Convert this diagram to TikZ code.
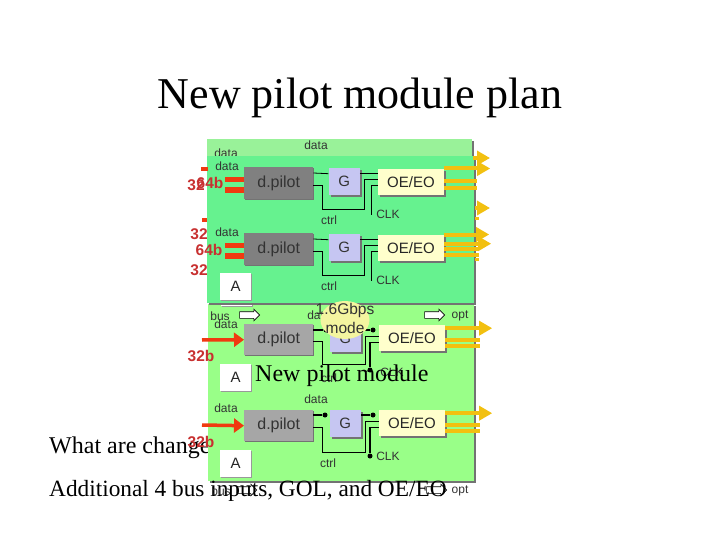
\documentclass[tikz,border=0pt]{standalone}
\usepackage{fontspec}
\setmainfont{Liberation Serif}
\setsansfont{Liberation Sans}
\usetikzlibrary{arrows.meta,positioning,shadows,shapes.geometric,shapes.arrows}
\definecolor{backgreen}{HTML}{99F299}
\definecolor{topgreen}{HTML}{66F28F}
\definecolor{lowgreen}{HTML}{99FF88}
\definecolor{gblue}{HTML}{C6C6F2}
\definecolor{oeyellow}{HTML}{FFFFCC}
\definecolor{optyellow}{HTML}{F2C010}
\definecolor{busred}{HTML}{F03A10}
\definecolor{labelred}{HTML}{C83030}
\definecolor{modeyellow}{HTML}{F4F5A0}
\tikzset{
  panel/.style={inner sep=0pt, drop shadow={shadow xshift=2pt, shadow yshift=-2pt, fill=black!55, opacity=1}},
  pilotbox/.style={inner sep=0pt, minimum width=69pt, minimum height=32pt, font=\sffamily\fontsize{16}{16}\selectfont, text=black!80, drop shadow={shadow xshift=1pt, shadow yshift=-1pt, fill=black!55, opacity=1}},
  gbox/.style={inner sep=0pt, minimum width=31pt, minimum height=27pt, fill=gblue, font=\sffamily\fontsize{15}{15}\selectfont, text=black!80, drop shadow={shadow xshift=2pt, shadow yshift=-2pt, fill=black!55, opacity=1}},
  oebox/.style={inner sep=0pt, minimum width=66pt, minimum height=26pt, fill=oeyellow, font=\sffamily\fontsize{15}{15}\selectfont, text=black!85, drop shadow={shadow xshift=2pt, shadow yshift=-2pt, fill=black!55, opacity=1}},
  abox/.style={inner sep=0pt, minimum width=31pt, minimum height=27pt, fill=white, font=\sffamily\fontsize{15}{15}\selectfont, text=black!85, drop shadow={shadow xshift=1pt, shadow yshift=-1pt, fill=black!40, opacity=1}},
  smalltext/.style={inner sep=0pt, font=\sffamily\fontsize{12}{12}\selectfont, text=black!80},
  widthtext/.style={inner sep=0pt, font=\sffamily\bfseries\fontsize{15.5}{16}\selectfont, text=labelred},
  slidetext/.style={inner sep=0pt, anchor=west, font=\fontsize{24}{24}\selectfont},
  wire/.style={line width=0.8pt, black},
  thickwire/.style={line width=1.1pt, black},
  dotend/.style={circle, fill=black, inner sep=0pt, minimum size=5pt},
  busbar/.style={line width=5.5pt, busred},
  busarrow/.style={line width=3.5pt, busred, -{Triangle[length=10pt,width=14pt]}},
  optbar/.style={line width=4pt, optyellow},
  optarrow/.style={line width=4pt, optyellow, -{Triangle[length=13pt,width=14pt]}},
  hollowarrow/.style={single arrow, draw=black, fill=white, inner xsep=0pt, inner ysep=3pt, minimum height=20pt, single arrow head extend=2.5pt, line width=0.6pt}
}
\begin{document}
\begin{tikzpicture}[x=1pt,y=-1pt]
\useasboundingbox[fill=white] (0,0) rectangle (720,540);
\node[inner sep=0pt, font=\fontsize{44}{44}\selectfont] (title) at (360,98) {New pilot module plan};
\node[slidetext] (changes) at (49,448) {What are change};
% panels
\node[panel, fill=backgreen, anchor=north west, minimum width=265pt, minimum height=40pt] (backpanel) at (207,139) {};
\node[smalltext] (datatop) at (316,145) {data};
\node[smalltext] (databack) at (226,153) {data};
\node[panel, fill=lowgreen, anchor=north west, minimum width=266pt, minimum height=177pt] (lowpanel) at (208,304) {};
\node[abox, anchor=north west, minimum height=8pt] (astrip) at (221,298) {};
\node[panel, fill=topgreen, anchor=north west, minimum width=267pt, minimum height=147pt] (toppanel) at (207,156) {};
% loose bus and opt pieces
\coordinate (busstuba) at (201,169);
\coordinate (busstubb) at (202,220);
\coordinate (optstuba) at (473,158);
\coordinate (optstubb) at (475,208);
\coordinate (optstubc) at (475,219);
\coordinate (optstubd) at (475,259);
\draw[line width=4.5pt, busred] (busstuba) -- ++(7,0);
\draw[line width=4.5pt, busred] (busstubb) -- ++(5,0);
\draw[optarrow] (optstuba) -- ++(17,0);
\draw[optarrow] (optstubb) -- ++(15,0);
\draw[optbar, line width=3pt] (optstubc) -- ++(4,0);
\draw[optbar, line width=3pt] (optstubd) -- ++(4,0);
% module one
\node[pilotbox, fill=black!50, anchor=north west] (pilota) at (244,167) {d.pilot};
\node[gbox, right=15pt of pilota, yshift=1.5pt] (ga) {G};
\node[oebox, right=18pt of ga] (oea) {OE/EO};
\draw[wire] (pilota.east |- ga.north) ++(0,5) -- ([yshift=8pt]ga.west);
\draw[wire] ([yshift=8pt]ga.east) -- ([yshift=8pt]oea.west);
\draw[wire] ([yshift=-2pt]pilota.east) -| ++(9,24) -| ([xshift=-13pt,yshift=2pt]oea.west) -- ([yshift=2pt]oea.west);
\coordinate (clkenda) at (371,215);
\draw[wire] ([yshift=-4pt]oea.west) -| (clkenda);
\node[smalltext] (dataa) at (227,166) {data};
\node[smalltext] (ctrla) at (329,220) {ctrl};
\node[smalltext] (clka) at (388,214) {CLK};
\draw[busbar] ([yshift=3.5pt]pilota.west) -- ++(-19,0);
\draw[busbar] ([yshift=-7pt]pilota.west) -- ++(-19,0);
\draw[optarrow] (oea.north east) -- ++(46,0);
\draw[optbar] ([yshift=1pt]oea.east) -- ++(33,0);
\draw[optbar] ([yshift=-6pt]oea.east) -- ++(33,0);
\node[widthtext] (widthaa) at (196,185) {32};
\node[widthtext] (widthab) at (210,183) {64b};
% module two
\node[pilotbox, fill=black!50, anchor=north west] (pilotb) at (244,233) {d.pilot};
\node[gbox, right=15pt of pilotb, yshift=1.5pt] (gb) {G};
\node[oebox, right=18pt of gb] (oeb) {OE/EO};
\draw[wire] (pilotb.east |- gb.north) ++(0,5) -- ([yshift=8pt]gb.west);
\draw[wire] ([yshift=8pt]gb.east) -- ([yshift=8pt]oeb.west);
\draw[wire] ([yshift=-2pt]pilotb.east) -| ++(9,24) -| ([xshift=-13pt,yshift=2pt]oeb.west) -- ([yshift=2pt]oeb.west);
\coordinate (clkendb) at (371,281);
\draw[wire] ([yshift=-4pt]oeb.west) -| (clkendb);
\node[smalltext] (datab) at (227,232) {data};
\node[smalltext] (ctrlb) at (329,286) {ctrl};
\node[smalltext] (clkb) at (388,280) {CLK};
\draw[busbar] ([yshift=3.5pt]pilotb.west) -- ++(-19,0);
\draw[busbar] ([yshift=-7pt]pilotb.west) -- ++(-19,0);
\draw[optarrow] (oeb.north east) -- ++(45,0);
\draw[optarrow] ([yshift=4pt]oeb.east) -- ++(47,0);
\draw[optbar] ([yshift=-1pt]oeb.east) -- ++(35,0);
\draw[optbar] ([yshift=-7pt]oeb.east) -- ++(35,0);
\node[widthtext] (widthba) at (199,234) {32};
\node[widthtext] (widthbb) at (209,250) {64b};
\node[widthtext] (widthbc) at (199,270) {32};
\node[abox, anchor=north west] (aa) at (220,273) {A};
% module three
\node[smalltext] (busc) at (220,316) {bus};
\node[smalltext] (datacc) at (226,324) {data};
\node[smalltext] (datac) at (319,315) {data};
\node[smalltext] (optc) at (460,316) {opt};
\node[hollowarrow] (busarrowc) at (248,315) {};
\node[hollowarrow] (optarrowc) at (433,315) {};
\node[pilotbox, fill=black!35, anchor=north west, minimum height=31pt] (pilotc) at (244,324) {d.pilot};
\node[gbox, right=16pt of pilotc, yshift=1.5pt] (gc) {G};
\node[oebox, right=18pt of gc] (oec) {OE/EO};
\node[dotend] (dotca) at (326,330) {};
\node[dotend] (dotcb) at (373,330) {};
\coordinate (clkendc) at (370,370);
\node[dotend] (dotcc) at (clkendc) {};
\draw[thickwire] (dotca) -- (dotca -| pilotc.east);
\draw[thickwire] (dotcb) -- (dotcb -| gc.east);
\draw[wire] ([yshift=-2pt]pilotc.east) -| ++(9,23) -| ([xshift=-13pt,yshift=2pt]oec.west) -- ([yshift=2pt]oec.west);
\draw[thickwire] ([yshift=-4pt]oec.west) -| (dotcc);
\node[smalltext] (ctrlc) at (329,378) {ctrl};
\node[smalltext] (clkc) at (392,372) {CLK};
\coordinate (buscstart) at (202,340);
\draw[busarrow] (buscstart) -- (pilotc.west);
\draw[optarrow] ([yshift=10pt]oec.east) -- ++(47,0);
\draw[optbar] ([yshift=-2pt]oec.east) -- ++(35,0);
\draw[optbar] ([yshift=-8pt]oec.east) -- ++(35,0);
\node[widthtext] (widthc) at (201,356) {32b};
\node[abox, anchor=north west] (ac) at (220,364) {A};
\node[ellipse, fill=modeyellow, minimum width=49pt, minimum height=38pt, inner sep=0pt] (modeblob) at (345,320) {};
\node[inner sep=0pt, align=center, font=\sffamily\fontsize{15.5}{19}\selectfont, text=black!80] (modetext) at (345,318) {1.6Gbps\\mode};
% module four
\node[smalltext] (datadd) at (316,399) {data};
\node[smalltext] (datad) at (226,408) {data};
\node[pilotbox, fill=black!35, anchor=north west, minimum height=31pt] (pilotd) at (244,410) {d.pilot};
\node[gbox, right=16pt of pilotd, yshift=2.5pt] (gd) {G};
\node[oebox, right=18pt of gd] (oed) {OE/EO};
\node[dotend] (dotda) at (325,415) {};
\node[dotend] (dotdb) at (373,415) {};
\coordinate (clkendd) at (370,456);
\node[dotend] (dotdc) at (clkendd) {};
\draw[thickwire] (dotda) -- (dotda -| pilotd.east);
\draw[thickwire] (dotdb) -- (dotdb -| gd.east);
\draw[wire] ([yshift=-2pt]pilotd.east) -| ++(9,25) -| ([xshift=-13pt,yshift=2pt]oed.west) -- ([yshift=2pt]oed.west);
\draw[thickwire] ([yshift=-4pt]oed.west) -| (dotdc);
\node[smalltext] (ctrld) at (328,463) {ctrl};
\node[smalltext] (clkd) at (388,456) {CLK};
\coordinate (busdstart) at (202,425);
\draw[busarrow] (busdstart) -- (pilotd.west);
\draw[optarrow] ([yshift=10pt]oed.east) -- ++(47,0);
\draw[optbar] ([yshift=-2pt]oed.east) -- ++(35,0);
\draw[optbar] ([yshift=-8pt]oed.east) -- ++(35,0);
\node[widthtext] (widthd) at (201,442) {32b};
\node[abox, anchor=north west] (ad) at (220,450) {A};
% bottom row and slide text
\node[slidetext] (newmodule) at (255,376) {New pilot module};
\node[slidetext, font=\fontsize{23.3}{24}\selectfont] (additional) at (49,491) {Additional 4 bus inputs, GOL, and OE/EO};
\node[smalltext] (busd) at (221,491) {bus};
\node[smalltext] (optd) at (460,491) {opt};
\node[hollowarrow, fill=none] (busarrowd) at (245,490) {};
\node[hollowarrow, fill=none] (optarrowd) at (435,490) {};
\end{tikzpicture}
\end{document}
